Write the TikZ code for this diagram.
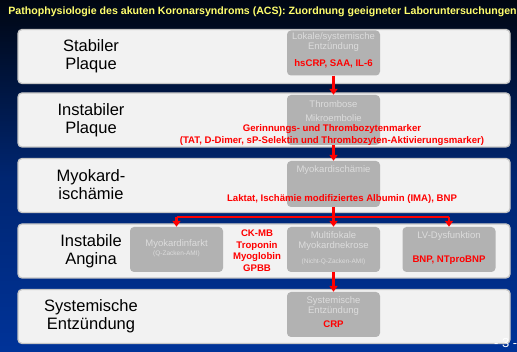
\documentclass[tikz,border=0pt]{standalone}
\usepackage{fontspec}
\setmainfont{Liberation Sans}
\usetikzlibrary{positioning, arrows.meta}
\definecolor{deepnavy}{RGB}{0,6,18}
\definecolor{slideblue}{RGB}{0,51,153}
\definecolor{paneltone}{RGB}{242,242,242}
\definecolor{boxtone}{RGB}{178,178,178}
\definecolor{fadetone}{RGB}{220,220,220}
\definecolor{markred}{RGB}{255,0,0}
\definecolor{titleyellow}{RGB}{255,255,110}

\begin{document}
\begin{tikzpicture}[x=1pt, y=-1pt,
    panel/.style={draw=gray!45, line width=1.3pt, fill=paneltone, rounded corners=4pt,
      minimum width=492pt, minimum height=54pt, inner sep=0pt},
    stage/.style={fill=boxtone, rounded corners=4pt, minimum width=93pt, minimum height=45pt, inner sep=0pt},
    fade/.style={text=fadetone, align=center, font=\fontsize{9.5}{10.5}\selectfont, inner sep=0pt},
    tiny/.style={text=fadetone, font=\fontsize{6.5}{7.5}\selectfont, inner sep=0pt},
    marker/.style={text=markred, align=center, font=\bfseries\fontsize{9.6}{11.5}\selectfont, inner sep=0pt},
    phase/.style={align=center, font=\fontsize{16.5}{18}\selectfont, inner sep=0pt},
    flow/.style={draw=markred, line width=2.3pt},
    flowtip/.style={flow, -{Triangle[width=8pt,length=6pt]}}]
    % background and title
    \useasboundingbox (0,0) rectangle (517,352);
    \shade[top color=deepnavy, bottom color=slideblue, middle color=slideblue!70!deepnavy] (0,0) rectangle (517,352);
    \node[text=titleyellow, font=\bfseries\fontsize{10.6}{11}\selectfont] (title) at (262.5,12)
        {Pathophysiologie des akuten Koronarsyndroms (ACS): Zuordnung geeigneter Laboruntersuchungen};

    % five phases
    \node[panel] (p1) at (264,56.5) {};
    \node[panel] (p2) at (264,120) {};
    \node[panel] (p3) at (264,185.5) {};
    \node[panel] (p4) at (264,251) {};
    \node[panel] (p5) at (264,316.5) {};
    \node[phase] (stab) at (91,56) {Stabiler\\Plaque};
    \node[phase] (instab) at (91,120) {Instabiler\\Plaque};
    \node[phase] (isch) at (91,185) {Myokard-\\ischämie};
    \node[phase] (angina) at (91,251) {Instabile\\Angina};
    \node[phase] (entz) at (91,316) {Systemische\\Entzündung};

    % gray boxes
    \node[stage] (lok) at (333.5,53) {};
    \node[stage, minimum height=50pt] (thr) at (333.5,120) {};
    \node[stage, minimum height=46pt] (myo) at (333.5,184) {};
    \node[stage] (inf) at (176.5,249.5) {};
    \node[stage] (nek) at (333.5,249.5) {};
    \node[stage] (lv) at (449,249.5) {};
    \node[stage] (sys) at (333.5,314.5) {};

    \node[fade] (lokt) at (333.5,42) {Lokale/systemische\\Entzündung};
    \node[fade, font=\fontsize{9.5}{14}\selectfont] (thrt) at (333.5,111.5) {Thrombose\\Mikroembolie};
    \node[fade] (myot) at (333.5,170) {Myokardischämie};
    \node[fade] (inft) at (176.5,244) {Myokardinfarkt};
    \node[tiny] (infq) at (176.5,254) {(Q-Zacken-AMI)};
    \node[fade] (nekt) at (333.5,241) {Multifokale\\Myokardnekrose};
    \node[tiny] (nekq) at (333.5,262) {(Nicht-Q-Zacken-AMI)};
    \node[fade] (lvt) at (449,236) {LV-Dysfunktion};
    \node[fade] (syst) at (333.5,306) {Systemische\\Entzündung};

    % laboratory markers
    \node[marker] (m1) at (333.5,64) {hsCRP, SAA, IL-6};
    \node[marker] (m2) at (332,135) {Gerinnungs- und Thrombozytenmarker\\(TAT, D-Dimer, sP-Selektin und Thrombozyten-Aktivierungsmarker)};
    \node[marker] (m3) at (342,199) {Laktat, Ischämie modifiziertes Albumin (IMA), BNP};
    \node[marker] (m4) at (257,250.5) {CK-MB\\Troponin\\Myoglobin\\GPBB};
    \node[marker] (m5) at (449,260) {BNP, NTproBNP};
    \node[marker] (m6) at (333.5,324) {CRP};

    % arrows
    \coordinate (fork) at (333.5,217);
    \draw[flowtip] (lok) -- (thr);
    \draw[flowtip] (thr) -- (myo);
    \draw[flow] (myo) -- (fork)
        (fork -| inf) -- (fork -| lv);
    \draw[flowtip] (fork -| inf) -- (inf);
    \draw[flowtip] (fork) -- (nek);
    \draw[flowtip] (fork -| lv) -- (lv);
    \draw[flowtip] (nek) -- (sys);

    \node[text=white, font=\fontsize{13}{14}\selectfont, anchor=west, inner sep=0pt] (page) at (494,343) {- 3 -};
\end{tikzpicture}
\end{document}
